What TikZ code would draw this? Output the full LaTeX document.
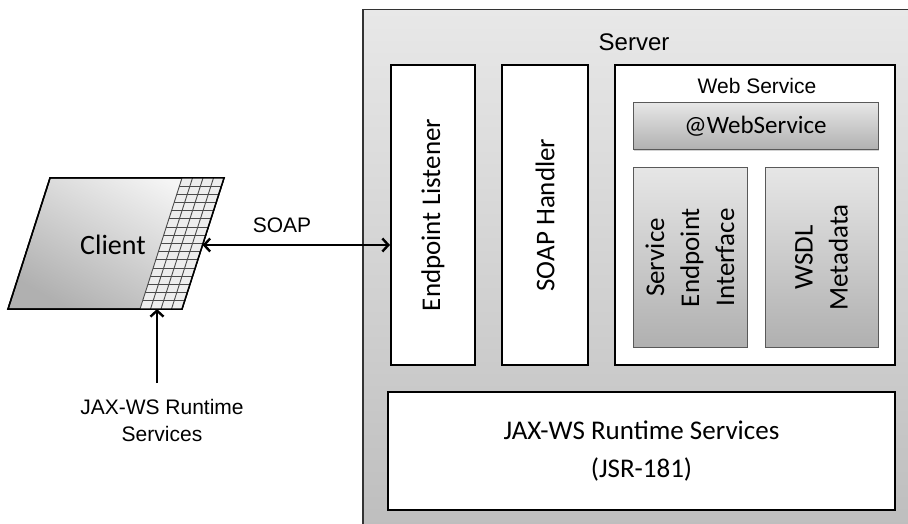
\documentclass[tikz,border=0pt]{standalone}
\usepackage{fontspec}
\setmainfont{Carlito}
\newfontfamily\arialf{Liberation Sans}
\usetikzlibrary{arrows.meta,shadows}
\definecolor{srvtop}{HTML}{E8E8E8}
\definecolor{srvbot}{HTML}{BDBDBD}
\definecolor{gtop}{HTML}{E6E6E6}
\definecolor{gbot}{HTML}{B0B0B0}
\definecolor{gridline}{HTML}{4A4A4A}
\tikzset{
  wbox/.style={draw=black, line width=2pt, fill=white, inner sep=0pt},
  gbox/.style={draw=gray!70!black, line width=1pt, top color=gtop, bottom color=gbot, inner sep=0pt,
    drop shadow={shadow xshift=1.2pt, shadow yshift=-1.2pt, opacity=0.35}},
  calf/.style={font=\fontsize{27}{35}\selectfont},
  arf/.style={font=\arialf\fontsize{21}{27}\selectfont},
  conn/.style={line width=2.4pt, arrows={Straight Barb[length=6pt,width=13pt]-Straight Barb[length=6pt,width=13pt]}},
  connup/.style={line width=2.4pt, arrows={-Straight Barb[length=6pt,width=13pt]}},
}
\begin{document}
\begin{tikzpicture}[x=1pt,y=-1pt]
\useasboundingbox (0,0) rectangle (908,524);
% Server
\node[draw=gray!40!black, line width=1.5pt, top color=srvtop, bottom color=srvbot, inner sep=0pt,
  minimum width=560pt, minimum height=530pt, anchor=north west] (server) at (362,9) {};
\node[font=\arialf\fontsize{24}{28}\selectfont] (serverlbl) at (634,42) {Server};
% Endpoint listener & SOAP handler
\node[wbox, minimum width=84pt, minimum height=300pt] (el) at (433,215) {};
\node[calf, rotate=90] (eltxt) at (el.center) {Endpoint Listener};
\node[wbox, minimum width=86pt, minimum height=300pt] (sh) at (545,215) {};
\node[calf, rotate=90] (shtxt) at (sh.center) {SOAP Handler};
% Web service
\node[wbox, minimum width=280pt, minimum height=300pt] (ws) at (755,215) {};
\node[arf] (wslbl) at (757,86) {Web Service};
\node[gbox, minimum width=245pt, minimum height=47pt, font=\fontsize{25}{30}\selectfont] (wsa) at (755.5,126.5) {@WebService};
\node[gbox, minimum width=114pt, minimum height=179pt] (sei) at (690,257.5) {};
\node[calf, rotate=90, align=center] (seitxt) at (sei.center) {Service\\Endpoint\\Interface};
\node[gbox, minimum width=113pt, minimum height=179pt] (wsdl) at (821.5,257.5) {};
\node[calf, rotate=90, align=center] (wsdltxt) at (wsdl.center) {WSDL\\Metadata};
% Runtime
\node[wbox, minimum width=507pt, minimum height=118pt, align=center, font=\fontsize{27}{38}\selectfont] (jax) at (641.5,451) {JAX-WS Runtime Services\\(JSR-181)};
% Client
\path[draw=black, line width=1.5pt, top color=gray!8, bottom color=gray!62, shading angle=-30]
  (50,178) -- (224,178) -- (182,309) -- (8,309) -- cycle;
\path[fill=gray!14] (182,178) -- (224,178) -- (182,309) -- (140,309) -- cycle;
\foreach \i in {0,...,4} {
  \draw[gridline, line width=0.9pt] ({182+10.5*\i},178) -- ({140+10.5*\i},309);
}
\foreach \j in {1,...,15} {
  \draw[gridline, line width=0.9pt] ({182-42*\j/16},{178+131*\j/16}) -- ({224-42*\j/16},{178+131*\j/16});
}
\draw[black, line width=1.5pt] (50,178) -- (224,178) -- (182,309) -- (8,309) -- cycle;
\node[calf, font=\fontsize{28}{34}\selectfont] (client) at (113,245) {Client};
\coordinate (clientR) at (202.5,245);
\coordinate (clientB) at (157,309);
% SOAP connector
\draw[conn] (clientR) -- (clientR -| el.west);
\node[arf] (soap) at (282,225) {SOAP};
% Runtime label and arrow
\node[arf, align=center] (rtlbl) at (162,420) {JAX-WS Runtime\\Services};
\coordinate (upstart) at (157,383);
\draw[connup] (upstart) -- (clientB);
\end{tikzpicture}
\end{document}
